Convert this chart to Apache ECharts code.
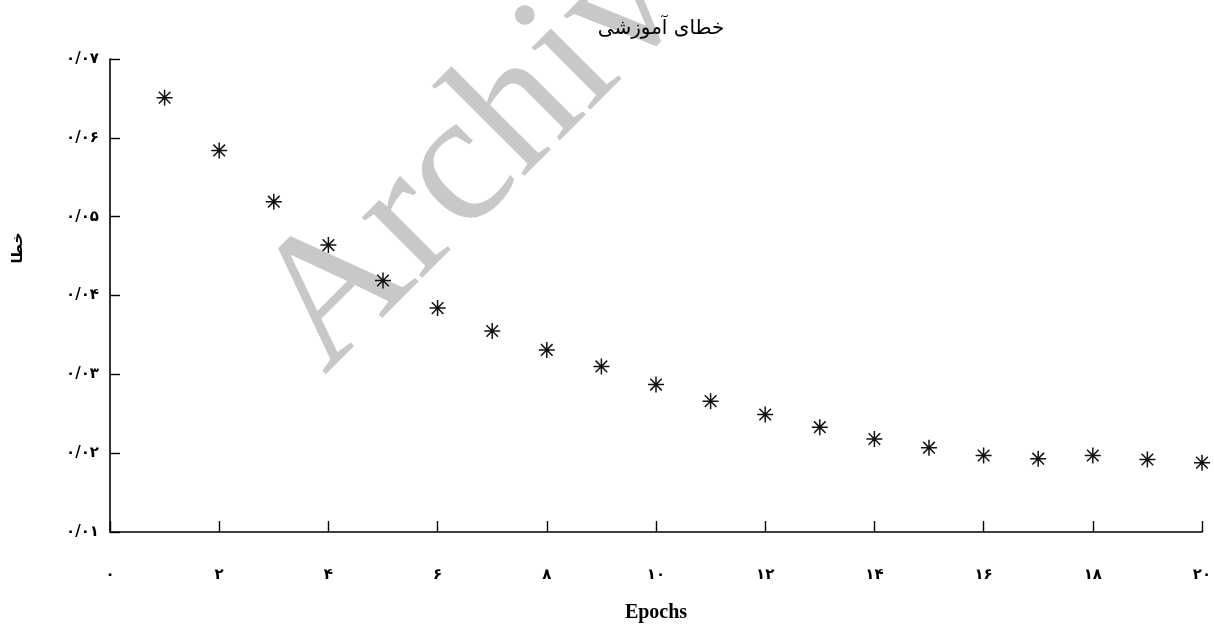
<!DOCTYPE html>
<html>
<head>
<meta charset="utf-8">
<style>
  html, body { margin: 0; padding: 0; background: #fff; }
  #chart { width: 1214px; height: 626px; }
</style>
<script src="https://cdn.jsdelivr.net/npm/echarts@6/dist/echarts.min.js"></script>
</head>
<body>
<div id="chart"></div>
<script>
// Training error per epoch
const epochs = [1, 2, 3, 4, 5, 6, 7, 8, 9, 10, 11, 12, 13, 14, 15, 16, 17, 18, 19, 20];
const trainError = [0.0651, 0.0584, 0.0519, 0.0464, 0.0419, 0.0384, 0.0355, 0.0331, 0.0310, 0.0287,
                    0.0266, 0.0249, 0.0233, 0.0218, 0.0207, 0.0197, 0.0193, 0.0197, 0.0192, 0.0188];

// Persian tick labels
const xTickValues = [0, 2, 4, 6, 8, 10, 12, 14, 16, 18, 20];
const xTickLabels = ['۰', '۲', '۴', '۶', '۸', '۱۰', '۱۲', '۱۴', '۱۶', '۱۸', '۲۰'];
const yTickValues = [0.01, 0.02, 0.03, 0.04, 0.05, 0.06, 0.07];
const yTickLabels = ['۰/۰۱', '۰/۰۲', '۰/۰۳', '۰/۰۴', '۰/۰۵', '۰/۰۶', '۰/۰۷'];

const titleText = 'خطای آموزشی';
const yAxisTitle = 'خطا';
const xAxisTitle = 'Epochs';
const watermark = 'Archive';

function lookup(values, labels, v) {
  for (let i = 0; i < values.length; i++) {
    if (Math.abs(values[i] - v) < 1e-9) return labels[i];
  }
  return '';
}

const chart = echarts.init(document.getElementById('chart'), null, { renderer: 'canvas' });

// eight-armed star marker, stroked only
const asterisk = 'path://M0,-8L0,8M-8,0L8,0M-5.8,-5.8L5.8,5.8M-5.8,5.8L5.8,-5.8';

chart.setOption({
  backgroundColor: '#ffffff',
  animation: false,
  title: {
    text: titleText,
    left: 656,
    top: 14,
    textAlign: 'center',
    textStyle: { fontFamily: 'DejaVu Sans', fontSize: 20, fontWeight: 'normal', color: '#000' }
  },
  grid: { left: 110, right: 12, top: 59, bottom: 94, containLabel: false, outerBoundsMode: 'none' },
  xAxis: {
    type: 'value',
    min: 0, max: 20, interval: 2,
    name: xAxisTitle,
    nameLocation: 'middle',
    nameGap: 71,
    nameTextStyle: { fontFamily: 'Liberation Serif', fontWeight: 'bold', fontSize: 20, color: '#000' },
    axisLine: { show: true, lineStyle: { color: '#000', width: 1.6 } },
    axisTick: { show: true, inside: true, length: 11, lineStyle: { color: '#000', width: 1.4 } },
    axisLabel: {
      margin: 36,
      fontFamily: 'DejaVu Sans', fontWeight: 'bold', fontSize: 15, color: '#000',
      formatter: v => lookup(xTickValues, xTickLabels, v)
    },
    splitLine: { show: false }
  },
  yAxis: {
    type: 'value',
    min: 0.01, max: 0.07, interval: 0.01,
    axisLine: { show: true, lineStyle: { color: '#000', width: 1.6 } },
    axisTick: { show: true, inside: true, length: 10, lineStyle: { color: '#000', width: 1.4 } },
    axisLabel: {
      margin: 11,
      fontFamily: 'DejaVu Sans', fontWeight: 'bold', fontSize: 15, color: '#000',
      formatter: v => lookup(yTickValues, yTickLabels, v)
    },
    splitLine: { show: false }
  },
  graphic: [
    {
      type: 'text',
      z: -10,
      x: 290, y: 341,
      rotation: Math.PI / 4,
      silent: true,
      style: {
        text: watermark,
        fontFamily: 'Liberation Serif',
        fontSize: 186,
        fill: '#c8c8c8',
        align: 'left',
        verticalAlign: 'middle'
      }
    },
    {
      type: 'text',
      x: 18, y: 248,
      rotation: Math.PI / 2,
      style: {
        text: yAxisTitle,
        fontFamily: 'DejaVu Sans',
        fontWeight: 'bold',
        fontSize: 15,
        fill: '#000',
        align: 'center',
        verticalAlign: 'middle'
      }
    }
  ],
  series: [{
    type: 'scatter',
    z: 5,
    data: epochs.map((e, i) => [e, trainError[i]]),
    symbol: asterisk,
    symbolSize: 16,
    itemStyle: { color: 'rgba(0,0,0,0)', borderColor: '#111', borderWidth: 1.5, opacity: 1 }
  }]
});
</script>
</body>
</html>
